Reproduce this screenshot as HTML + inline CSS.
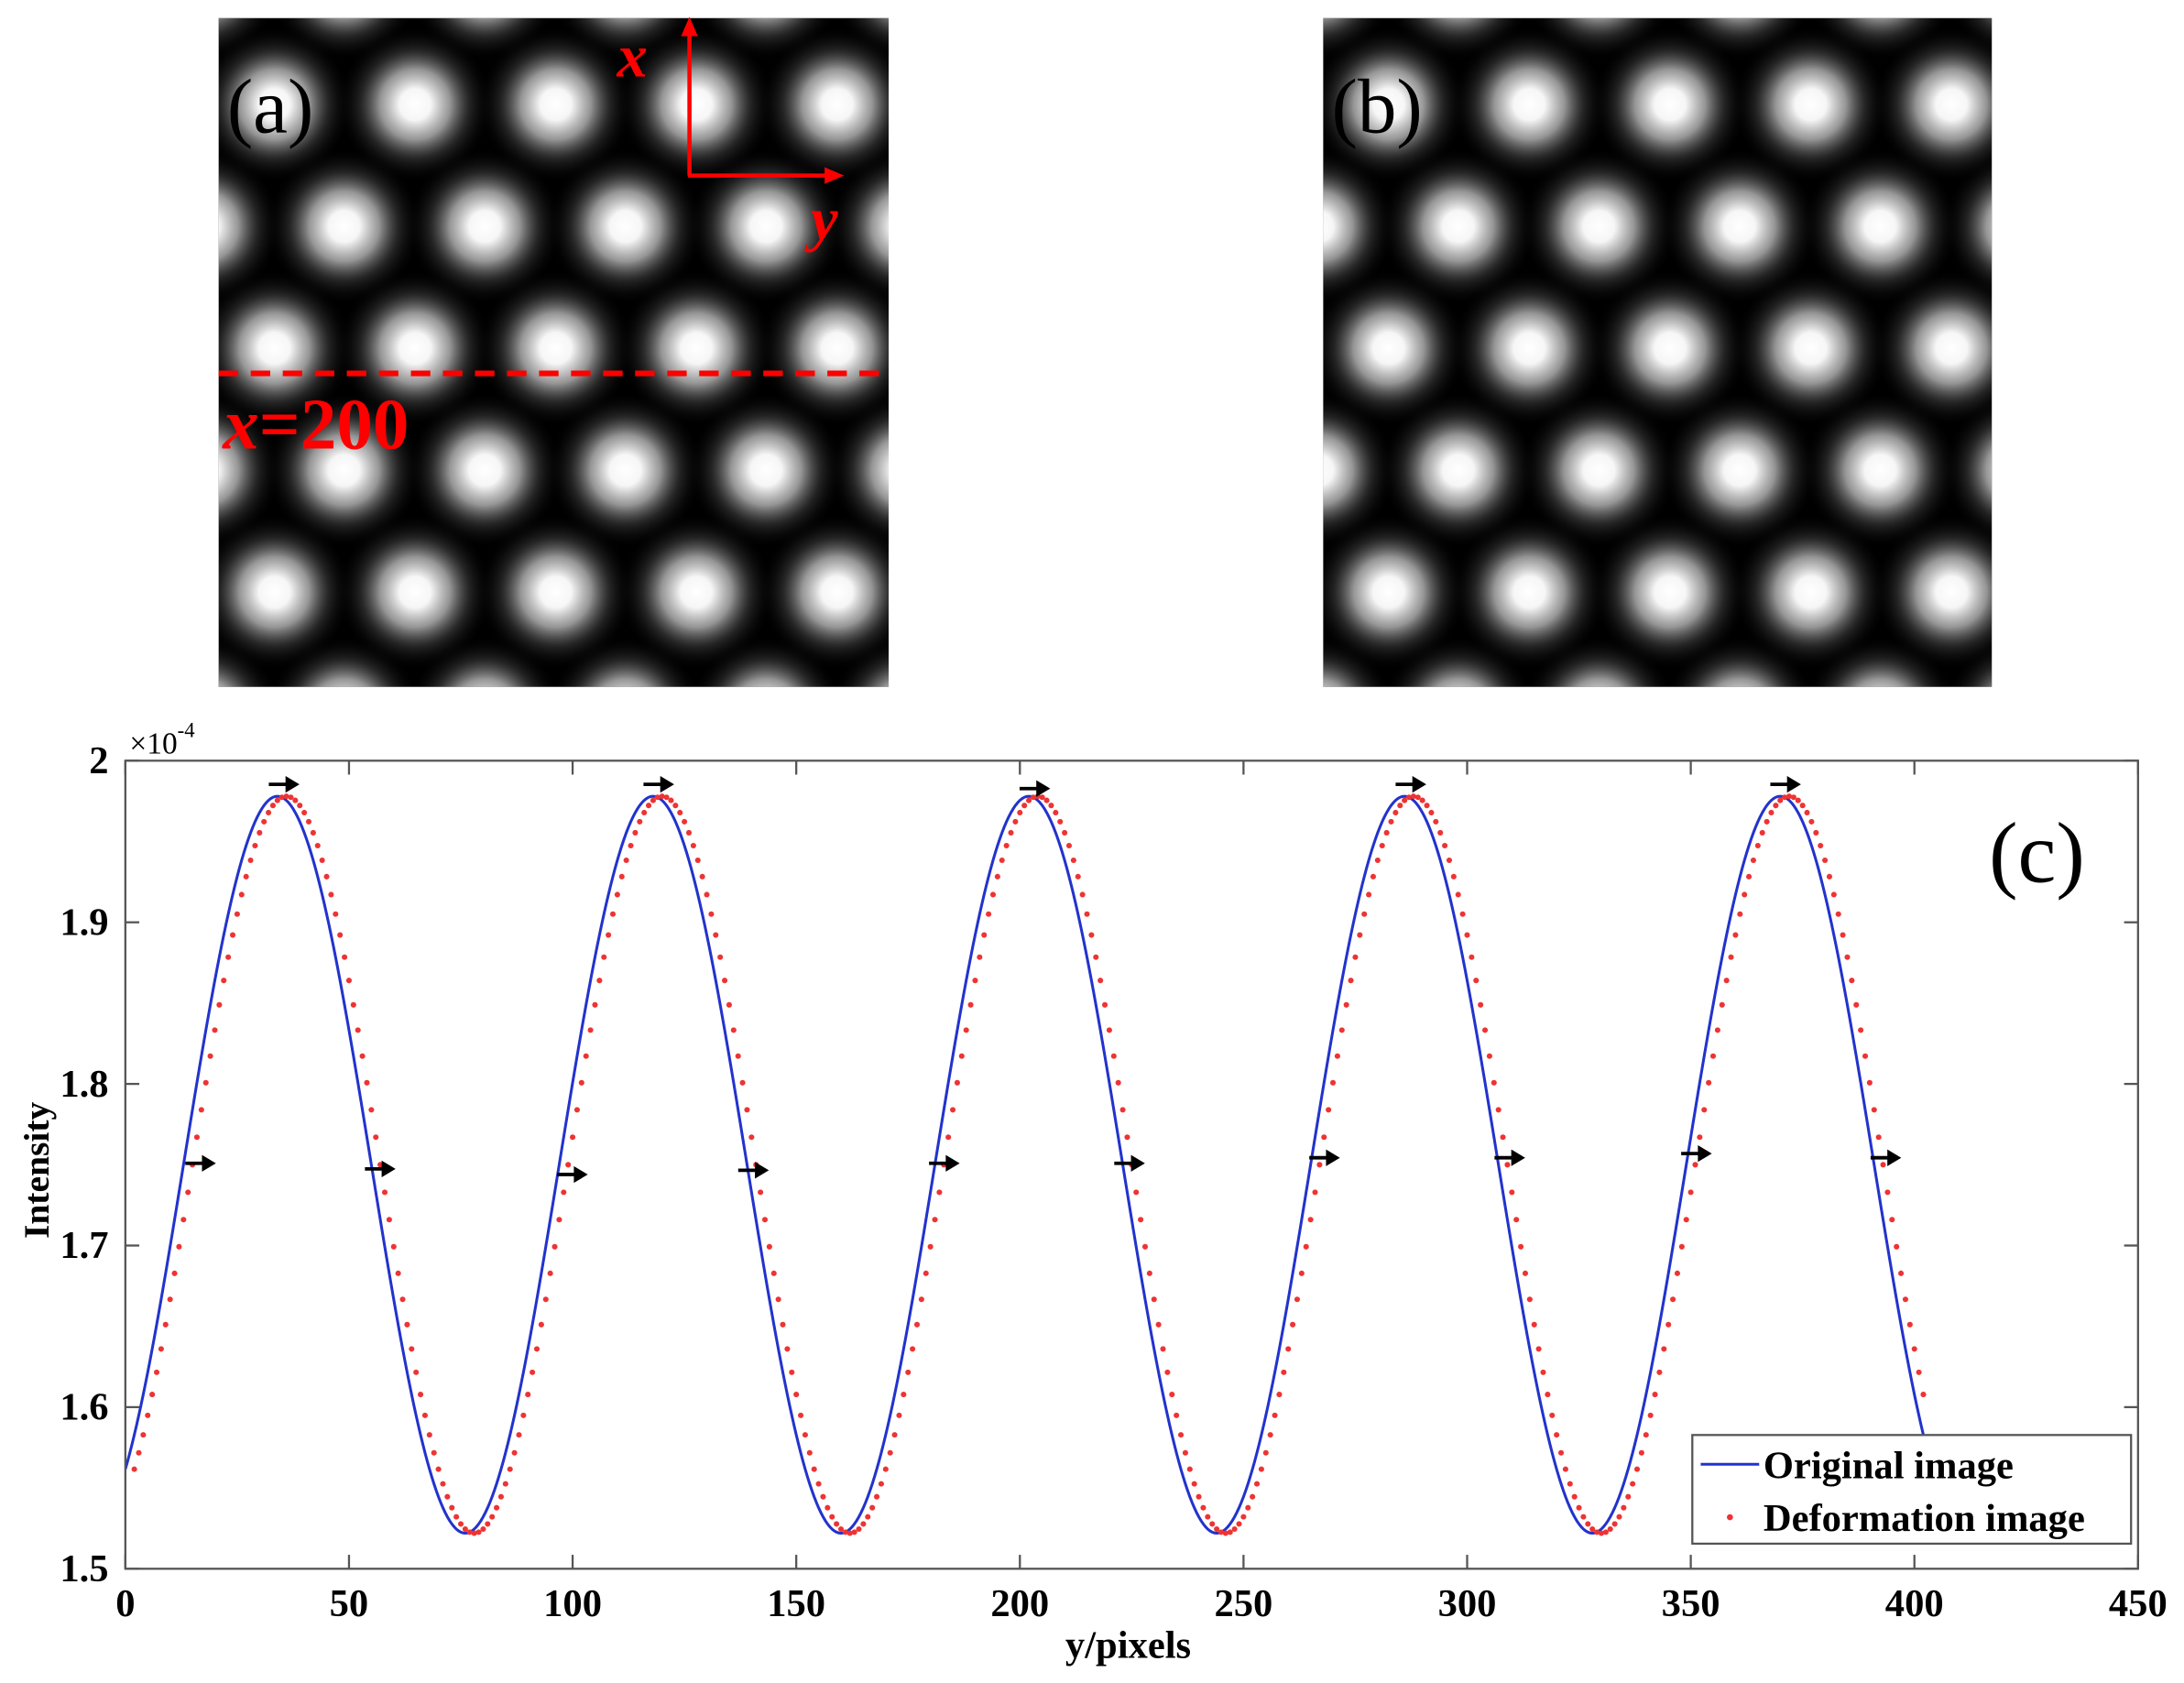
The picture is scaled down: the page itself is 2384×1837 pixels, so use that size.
<!DOCTYPE html>
<html><head><meta charset="utf-8"><style>
html,body{margin:0;padding:0;background:#fff;}
svg{display:block;}
text{font-family:"Liberation Serif",serif;}
</style></head><body>
<svg id="s" width="2384" height="1837" viewBox="0 0 1568 1208" preserveAspectRatio="none" xmlns="http://www.w3.org/2000/svg">
<defs>
<radialGradient id="g">
<stop offset="0" stop-color="#fff" stop-opacity="1"/>
<stop offset="0.2" stop-color="#f6f6f6" stop-opacity="1"/>
<stop offset="0.45" stop-color="#bbb" stop-opacity="0.8"/>
<stop offset="0.7" stop-color="#666" stop-opacity="0.35"/>
<stop offset="1" stop-color="#000" stop-opacity="0"/>
</radialGradient>
<clipPath id="ca"><rect x="157" y="13" width="481" height="480"/></clipPath>
<clipPath id="cb"><rect x="950" y="13" width="480" height="480"/></clipPath>
<clipPath id="cp"><rect x="90" y="546" width="1445" height="580"/></clipPath>
</defs>
<rect x="157" y="13" width="481" height="480" fill="#000"/>
<rect x="950" y="13" width="480" height="480" fill="#000"/>
<g id="blobA" clip-path="url(#ca)"></g>
<g id="blobB" clip-path="url(#cb)"></g>
<text x="163" y="95" font-size="56" fill="#000">(a)</text>
<text x="956" y="95" font-size="56" fill="#000">(b)</text>
<g stroke="#f00" stroke-width="3" fill="none">
<line x1="495" y1="126" x2="495" y2="22"/>
<line x1="494" y1="126" x2="596" y2="126"/>
</g>
<polygon points="495,12 489,26 501,26" fill="#f00"/>
<polygon points="606,126 592,120 592,132" fill="#f00"/>
<text x="443" y="55" font-size="44" font-style="italic" font-weight="bold" fill="#f00">x</text>
<text x="582" y="172" font-size="44" font-style="italic" font-weight="bold" fill="#f00">y</text>
<line x1="157" y1="268" x2="638" y2="268" stroke="#f00" stroke-width="4" stroke-dasharray="14,9"/>
<text x="160" y="322" font-size="52" font-weight="bold" fill="#f00"><tspan font-style="italic">x</tspan>=200</text>
<g id="plot"></g>
<rect x="90" y="546" width="1445" height="580" fill="none" stroke="#555" stroke-width="1.5"/>
<g id="ticks" stroke="#555" stroke-width="1.5"></g>
<g font-size="28" font-weight="bold" fill="#000" id="labels"></g>
<text x="93" y="541" font-size="22" fill="#000">×10<tspan font-size="15" dy="-12">-4</tspan></text>
<text x="810" y="1190" font-size="28" font-weight="bold" text-anchor="middle">y/pixels</text>
<text transform="translate(35,840) rotate(-90)" font-size="26" font-weight="bold" text-anchor="middle">Intensity</text>
<text x="1428" y="633" font-size="62">(c)</text>
<rect x="1215" y="1030" width="315" height="78" fill="#fff" stroke="#555" stroke-width="1.5"/>
<line x1="1221" y1="1051" x2="1263" y2="1051" stroke="#2233cc" stroke-width="2"/>
<text x="1266" y="1061" font-size="28" font-weight="bold">Original image</text>
<circle cx="1242" cy="1089" r="2.2" fill="#e33"/>
<text x="1266" y="1099" font-size="28" font-weight="bold">Deformation image</text>
</svg>
<script>
const NS="http://www.w3.org/2000/svg";
function el(p,t,a){const e=document.createElementNS(NS,t);for(const k in a)e.setAttribute(k,a[k]);p.appendChild(e);return e;}
function blobs(gid,ox){
 const g=document.getElementById(gid);
 const rows=[-12.5,75,162.5,250,337.5,425,512.5];
 rows.forEach((y,i)=>{
  const base=(i%2===1)?195:245;
  for(let x=base-200;x<700;x+=101){
   el(g,"circle",{cx:x+ox,cy:y,r:56,fill:"url(#g)"});
  }
 });
}
blobs("blobA",0);blobs("blobB",800);
const X=v=>90+v*1445/450, Y=v=>546+(2-v)*580/0.5;
const f=t=>1.75+0.228*Math.cos(2*Math.PI*(t-34)/84);
const p=document.getElementById("plot");
let d="";
for(let t=0;t<=402;t+=0.5){d+=(t?"L":"M")+X(t).toFixed(2)+","+Y(f(t)).toFixed(2);}
el(p,"path",{d:d,fill:"none",stroke:"#2233cc","stroke-width":2,"clip-path":"url(#cp)"});
for(let t=2;t<=402;t+=1){el(p,"circle",{cx:X(t),cy:Y(f(t-2)),r:2,fill:"#e33"});}
const arr=[[203,563],[472,563],[742,566],[1012,563],[1281,563],[143,835],[272,839],[410,843],[540,840],[677,835],[810,835],[950,831],[1083,831],[1217,828],[1353,831]];
arr.forEach(([x,y])=>{
 el(p,"line",{x1:x-10,y1:y,x2:x+4,y2:y,stroke:"#000","stroke-width":2.5});
 el(p,"polygon",{points:`${x+12},${y} ${x+2},${y-6} ${x+2},${y+6}`,fill:"#000"});
});
const tk=document.getElementById("ticks"),lb=document.getElementById("labels");
for(let v=0;v<=450;v+=50){const x=X(v);
 el(tk,"line",{x1:x,y1:1126,x2:x,y2:1116});el(tk,"line",{x1:x,y1:546,x2:x,y2:556});
 const t=el(lb,"text",{x:x,y:1160,"text-anchor":"middle"});t.textContent=v;}
for(let i=0;i<=5;i++){const v=1.5+i*0.1,y=Y(v);
 el(tk,"line",{x1:90,y1:y,x2:100,y2:y});el(tk,"line",{x1:1535,y1:y,x2:1525,y2:y});
 const t=el(lb,"text",{x:78,y:y+9,"text-anchor":"end"});t.textContent=(i===5?"2":v.toFixed(1));}
</script>
</body></html>
